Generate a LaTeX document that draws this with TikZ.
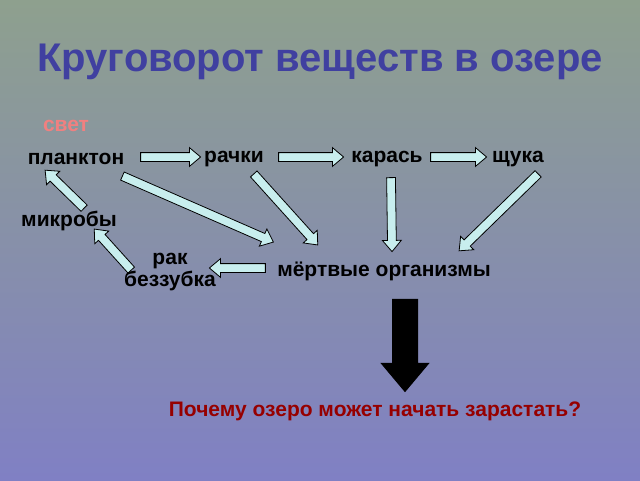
\documentclass[tikz,border=0pt]{standalone}
\usepackage{fontspec}
\setmainfont{Liberation Sans}
\usetikzlibrary{shapes.arrows,calc}
\definecolor{topc}{RGB}{142,160,142}
\definecolor{botc}{RGB}{128,128,196}
\definecolor{titlec}{RGB}{64,64,160}
\definecolor{arrfill}{RGB}{200,238,238}
\tikzset{
 lbl/.style={font=\bfseries\fontsize{21}{24}\selectfont, inner sep=1pt},
 barr/.style={single arrow, draw=black, fill=arrfill, line width=0.8pt, inner sep=4pt, minimum width=18pt, single arrow head extend=5pt, single arrow head indent=0pt, single arrow tip angle=80}
}
\newcommand{\blkarr}[3]{%
 \path let \p1=(#1), \p2=(#2), \n1={atan2(\y2-\y1,\x2-\x1)}, \n2={veclen(\x2-\x1,\y2-\y1)} in
 node[barr,#3,minimum height=\n2,rotate=\n1] at ($(#1)!0.5!(#2)$) {};}
\begin{document}
\begin{tikzpicture}[x=1pt,y=-1pt]
\shade[top color=topc,bottom color=botc] (0,0) rectangle (640,480);
\useasboundingbox (0,0) rectangle (640,480);
\node[font=\bfseries\fontsize{40}{44}\selectfont,text=titlec] (title) at (320,62) {Круговорот веществ в озере};
\node[lbl,text={rgb,255:red,240;green,128;blue,128}] (svet) at (66,126) {свет};
\node[lbl] (plank) at (76,159) {планктон};
\node[lbl] (rachki) at (234,159) {рачки};
\node[lbl] (karas) at (387,159) {карась};
\node[lbl] (shchuka) at (518,159) {щука};
\node[lbl] (mikroby) at (69,221) {микробы};
\node[lbl,align=center] (rak) at (170,272) {рак\\[-2pt]беззубка};
\node[lbl] (mertv) at (384,271) {мёртвые организмы};
\node[lbl,text={rgb,255:red,150;green,0;blue,0}] (q) at (375,411) {Почему озеро может начать зарастать?};
\coordinate (a1) at (138,157); \coordinate (b1) at (198,157);
\coordinate (a2) at (276,157); \coordinate (b2) at (341,157);
\coordinate (a3) at (428,157); \coordinate (b3) at (484,157);
\coordinate (a4) at (120,175); \coordinate (b4) at (271,241);
\coordinate (a5) at (252,172); \coordinate (b5) at (316,243);
\coordinate (a6) at (391,175); \coordinate (b6) at (392,249);
\coordinate (a7) at (540,172); \coordinate (b7) at (461,249);
\coordinate (a8) at (268,268); \coordinate (b8) at (212,268);
\coordinate (a9) at (133,272); \coordinate (b9) at (96,231);
\coordinate (a10) at (86,210); \coordinate (b10) at (47,172);
\coordinate (a11) at (405,292); \coordinate (b11) at (405,384);
\blkarr{a1}{b1}{}
\blkarr{a2}{b2}{}
\blkarr{a3}{b3}{}
\blkarr{a4}{b4}{}
\blkarr{a5}{b5}{}
\blkarr{a6}{b6}{}
\blkarr{a7}{b7}{}
\blkarr{a8}{b8}{}
\blkarr{a9}{b9}{}
\blkarr{a10}{b10}{}
\blkarr{a11}{b11}{fill=black,inner sep=12pt,minimum width=46pt,single arrow head extend=11pt,line width=1pt}
\end{tikzpicture}
\end{document}
